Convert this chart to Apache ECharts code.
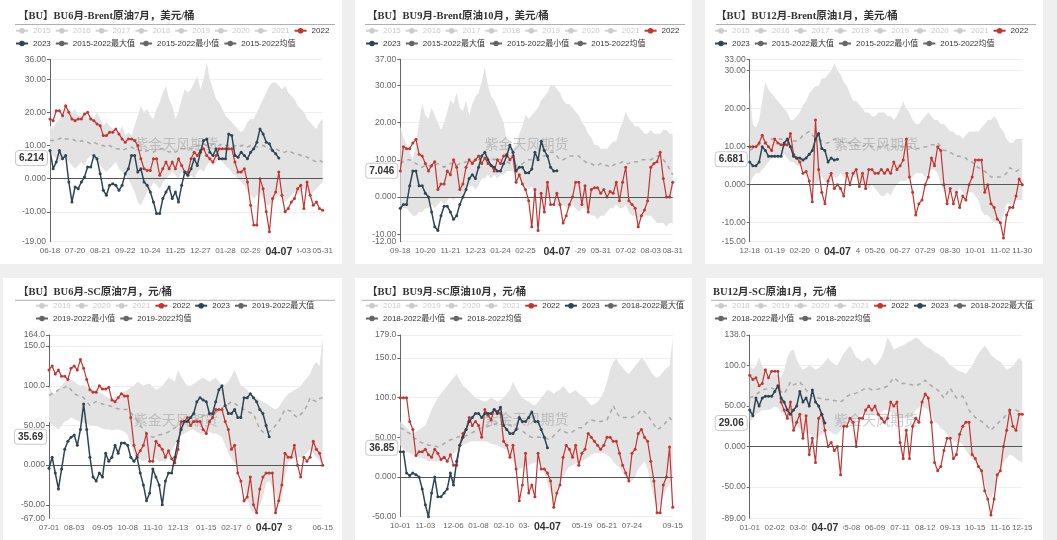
<!DOCTYPE html>
<html><head><meta charset="utf-8">
<script src="https://cdn.jsdelivr.net/npm/echarts/dist/echarts.min.js"></script>
<style>
body{margin:0;width:1057px;height:540px;background:#efefef;position:relative;overflow:hidden;}
.card{position:absolute;background:#fff;}
</style></head><body>
<div id="c1" class="card" style="left:0;top:0;width:342px;height:264px"></div>
<div id="c2" class="card" style="left:355px;top:0;width:337px;height:264px"></div>
<div id="c3" class="card" style="left:705px;top:0;width:338px;height:264px"></div>
<div id="c4" class="card" style="left:3px;top:278px;width:339px;height:262px"></div>
<div id="c5" class="card" style="left:355px;top:278px;width:337px;height:262px"></div>
<div id="c6" class="card" style="left:706px;top:278px;width:337px;height:262px"></div>
<script>
// ---------- Panel 1: BU6月-Brent原油7月 ----------
const p1Ticks = ['06-18','07-20','08-21','09-22','10-24','11-25','12-27','01-28','02-29','04-01','05-03'];
const p1End = '05-31';
const p1Y2022 = [18,17.5,20.5,20.5,19,22,20,18,17.5,18,
18,19.5,20,18,17.5,16.5,16,13,13,14,
14,15,13.5,12,11,12,12,11.5,10,6,
3,2.5,2.5,6,6,1,3,5,3,5,
3,6,4,2,2,6,8,7,8.5,9,
7,6,5,7,9,9,9,9,9,5,
2,2,3,-1,-8,-14,-14,0,-3,-10,
-16,-6,-4,2,-5,-10,-9,-7,-6,-3,
-2,-9,-1,-5,-8,-7,-9,-9.5];
const p1Y2023 = [8.5,3,5,8.5,6,7,-1,-7,-2.5,-3,
-1,0.5,3.5,3.5,7,6,1.5,-3.5,-5,-2,
-1.5,-2,-3.5,-2,1.5,3,7,7,2,3,
-1,-2,-4,-7,-10.5,-10.5,-6,-4,-2.5,-6,
-4,-7,-2,2,1,3,6,4,8,11.5,
12,8,7,9,6,6,6,13.5,13,7,
6.5,8,7,6,8,9,11,15,13.5,11,
10.5,8.5,7.5,6.214];
const p1Max = [16,15,17,18,19,21,21,20,21,19,
19,20,18,19,18,20,18,16,17,16,
15,14,14,16,13,14,13,16,19,22,
20,21,19,18,21,23,26,28,24,22,
18,20,24,27,26,27,29,31,27,30,
35,30,27,24,23,21,19,18,17,16,
15,14,15,17,18,18,20,22,24,26,
28,29,29,28,27,28,26,25,24,22,
21,20,18,17,16,15,17,18];
const p1Min = [8,7,6,5,6,6,5,4,3,4,
5,4,6,7,6,5,4,3,2,3,
4,5,3,2,1,0,-2,-4,-7,-8,
-6,-4,-3,-1,-2,-3,-1,0,1,2,
1,0,2,1,0,1,0,2,3,2,
4,5,4,5,6,5,4,3,2,1,
0,-1,-2,-4,-5,-6,-5,-4,-6,-8,
-8,-7,-6,-5,-6,-7,-6,-5,-4,-5,
-4,-3,-4,-5,-4,-3,-2,-1];
const p1Avg = [11.5,11.5,12,12,12.5,12,12,12,11.5,11,
11.5,11,11,10.5,11,10.5,10,10,9.5,10,
9.5,9,9,8.5,9,9,9.5,9,8.5,8.5,
8,8.5,8.5,8,8.5,9,9,8.5,8,8.5,
8,8.5,9,9,9.5,9,9.5,10,10,10.5,
10,10,10.5,10,10,10.5,10,10,9.5,10,
9.5,10,10,9.5,10,10,9.5,10,10,9.5,
9,8.5,9,8.5,8,8,8.5,8,7.5,7.5,
7,7,6.5,6,5.5,5,5.5,5];

// ---------- Panel 2: BU9月-Brent原油10月 ----------
const p2Ticks = ['09-18','10-20','11-21','12-23','01-24','02-25','03-28','04-29','05-31','07-02','08-03'];
const p2End = '08-31';
const p2Y2022 = [7,13.5,13,13,14.5,15.5,11.5,11,9,7,
8.5,9.5,2,3.5,3.5,7,6,10,8,2,
3.5,8,10,9,10,11,9,10.5,9,8.5,
7,10,9,11,11.5,10,11,4,6,3.5,
2,-1,-8,2,-9,1,-4,4,-2,-2,
1,-2,-7,-5,-2,0,4,4,-2,3,
-4,2,2.5,2.5,1,2,0,1.5,1,4,
-1,4,8,-1,-2,-3,-8,-5,-3.5,-1,
8,9,9.5,12,5,0,0,4];
const p2Y2023 = [-3,-2,-2,3,7,7,3,3,1,0,
-4,-8,-9,-5,-2.5,-2.5,-4,-6,-5,-2,
0,2,5,6,5,8,11,12,10,8.5,
8,7,7,9,11,14,12,7,8,8,
6.5,6.5,7.5,12,10,15,12.5,11,8,7,
7.046];
const p2Max = [19,16,14,12,10,14,20,25,22,21,
24,22,20,18,20,23,26,25,28,24,
23,26,22,25,27,28,31,35,30,27,
26,24,22,20,15,14,13,14,17,19,
22,21,22,23,24,26,27,28,30,30,
29,28,26,25,25,24,23,22,20,19,
17,16,14,14,13,13,13,14,15,15,
18,20,23,21,20,19,19,18,17,17,
18,17,17,17,18,18,17,17];
const p2Min = [-3,-3,-3,-4,-5,-5,-4,-4,-3,-3,
-2,-3,-2,-1,-2,-1,0,-1,0,0,
1,2,3,3,2,3,5,5,6,5,
6,5,6,6,7,7,7,6,5,3,
3,2,3,1,0,0,-1,0,0,-1,
-2,-3,-2,-3,-3,-2,-3,-4,-3,-3,
-4,-5,-5,-6,-5,-5,-4,-3,-3,-2,
-3,-3,-2,-4,-5,-5,-6,-5,-5,-5,
-5,-6,-7,-7,-7,-8,-7,-7];
const p2Avg = [9,9.5,10,10,9.5,9,8.5,8,8.5,8.5,
8,8.5,9,8.5,8,8.5,9,9,8.5,9,
9,9.5,9,9.5,10,10,10.5,10,10.5,10.5,
10,10.5,10,9.5,9.5,9,9,8.5,8.5,9,
9.5,10,10,10.5,10.5,11,11,11.5,12,12,
11,10,10,10.5,11,11,11,11,10,9.5,
9,9,8.5,8.5,9,8.5,8.5,8,8.5,9,
9,9.5,9,9,9.5,9.5,9.5,10,10,10,
10,10.5,11,11,10,9,7.5,6];

// ---------- Panel 3: BU12月-Brent原油1月 ----------
const p3Ticks = ['12-18','01-19','02-20','03-23','04-24','05-26','06-27','07-29','08-30','10-01','11-02'];
const p3End = '11-30';
const p3Y2022 = [10,10,10,11,13,11,10,9,12,11,
10.5,10.5,10.5,13.5,8,7,6,3,3.5,1,
-4.5,17,4,-2,-5,1,3,-1,0,-1,
-3,3,0,3,4,-0.5,3,-1,4,4,
3,3,4,3,4,3,6,4,5,6.5,
12,2,-2,-8,-5,-4,0,2,7,5,
10,9,0,-5,-1,-5,-2,-6,-3,-4,
0,2,6.5,6.5,6.5,-2,0,-5,-6,-9,
-10,-14,-8,-6,-6,-3,1.5,0];
const p3Y2023 = [6,5,5,6,10,9,7.5,7.5,7.5,7.5,
7.5,11,12,10,7.5,7,7,6.5,7,8,
9,12,13.5,9.5,9,6,7,6.5,6.681];
const p3Max = [25,16,15,17,22,27,25,24,23,22,
21,20,19,17,17,18,19,21,22,24,
25,26,26,28,28,29,30,32,30,29,
27,26,24,22,22,21,20,19,19,18,
18,19,19,19,18,18,17,18,20,22,
20,19,17,16,16,17,18,19,18,17,
17,16,16,15,14,14,13,13,12,13,
14,14,14,14,15,16,17,17,18,17,
15,14,12,11,11,12,12,12];
const p3Min = [0,2,3,3,4,5,6,7,7,7,
7,8,7,6,6,5,5,4,3,2,
1,0,1,2,1,0,1,2,2,3,
2,2,1,2,2,1,0,0,-1,0,
-1,-2,-3,-3,-2,-3,-1,0,1,1,
1,2,2,3,3,3,2,3,4,4,
3,0,-2,-2,-1,-2,-2,-1,-2,-3,
-2,-2,-3,-4,-7,-8,-8,-9,-10,-10,
-10,-8,-5,-5,-5,-4,-4,-4];
const p3Avg = [9,9.5,10,10.5,10.5,11,11.5,12,12,12,
12,11.5,11.5,11,11.5,11.5,12,13,13.5,14,
13,12.5,12,11.5,11,11,11.5,12,12,11.5,
11,11,11,10.5,10.5,10,10,10.5,10.5,10,
10,10,10,10,10.5,10,10,10,10,10,
10,10,9.5,9.5,9.5,9.5,10,10,10.5,10.5,
11,10,9,9,8.5,8,7.5,7.5,7,7,
6,6,5,4.5,4,3.5,3,2,2,2,
2,2.5,3,4.5,4,3.5,4,3.5];

// ---------- Panel 4: BU6月-SC原油7月 ----------
const p4Ticks = ['07-01','08-03','09-05','10-08','11-10','12-13','01-15','02-17','03-21','04-23',''];
const p4End = '06-15';
const p4Y2022 = [120,125,115,120,112,112,108,122,125,120,
133,122,108,95,92,92,100,96,96,98,
82,80,85,90,87,87,60,25,12,18,
25,40,5,5,30,25,20,10,18,8,
3,20,55,55,60,50,55,55,55,45,
40,55,60,70,70,70,55,45,20,25,
-10,-20,-45,-40,-15,-50,-60,-30,-15,-10,
-10,-10,-60,-45,-25,15,10,10,25,0,
-15,10,5,10,30,20,15,0];
const p4Y2023 = [-4,10,-10,-30,-5,20,30,35,38,25,
45,77,45,10,-15,-20,-10,-15,15,5,
10,25,15,28,28,25,10,5,10,-10,
-25,-45,-35,-5,-15,-25,-50,-20,-10,-10,
10,30,45,55,55,60,65,80,85,82,
80,65,65,80,95,100,75,65,65,70,
60,60,85,85,90,85,80,70,65,50,
35.69];
const p4Max = [100,92,90,96,100,105,110,108,105,102,
100,101,98,96,95,94,92,90,87,85,
85,86,88,90,93,95,98,100,105,103,
100,102,103,98,95,97,100,105,110,108,
105,120,112,105,100,100,103,105,108,110,
108,105,108,110,105,100,102,105,112,120,
110,100,98,95,90,88,85,82,80,78,
75,72,70,73,80,85,90,92,95,97,
100,105,110,115,125,130,125,160];
const p4Min = [55,50,48,45,50,55,57,60,58,56,
55,53,52,50,50,50,48,46,45,45,
44,45,45,44,42,38,25,15,10,7,
5,7,9,10,8,5,5,5,10,18,
25,33,37,40,42,44,45,42,40,40,
40,42,40,40,38,35,25,15,8,3,
-5,-15,-30,-42,-55,-60,-58,-50,-40,-22,
-20,-28,-35,-48,-45,-15,3,8,10,10,
10,12,15,20,15,10,5,0];
const p4Avg = [88,90,92,95,97,98,100,95,90,88,
87,85,80,75,78,80,79,77,76,75,
74,72,71,70,70,70,66,62,56,50,
45,40,37,35,37,38,39,40,42,45,
47,50,52,55,55,55,56,58,60,62,
65,63,62,66,70,72,75,77,80,78,
75,73,70,68,66,65,55,45,42,40,
42,45,50,55,62,70,69,68,63,60,
64,68,75,85,82,80,84,85];

// ---------- Panel 5: BU9月-SC原油10月 ----------
const p5Ticks = ['10-01','11-03','12-06','01-08','02-10','03-14','','05-19','06-21','07-24',''];
const p5End = '09-15';
const p5Y2022 = [100,100,100,70,60,27,32,32,35,28,
25,35,30,22,25,20,28,15,15,40,
55,60,75,65,70,65,50,85,78,72,
85,83,80,45,40,25,40,10,-30,-10,
30,-20,-10,-25,30,10,10,5,-5,-38,
-20,-10,25,40,35,25,40,15,30,35,
55,50,45,40,35,40,50,50,45,45,
30,15,5,-5,30,35,55,60,50,45,
20,-5,-45,-45,-10,0,38,-38];
const p5Y2023 = [32,32,5,2,5,3,0,-15,-35,-50,
-20,0,-25,-25,-20,-15,5,-10,20,40,
50,60,70,75,80,80,75,80,80,80,
85,80,88,65,60,55,55,60,75,70,
70,75,82,70,70,60,50,36.85];
const p5Max = [70,66,62,58,55,57,60,62,65,75,
85,92,100,105,110,115,120,125,130,122,
115,112,108,104,100,98,96,95,97,100,
98,95,97,100,105,110,120,112,105,100,
97,95,92,90,95,100,105,110,108,105,
108,110,115,110,105,107,110,105,102,100,
95,90,92,95,100,108,120,135,145,150,
142,138,133,130,135,140,145,150,147,140,
133,128,125,128,133,137,140,175];
const p5Min = [40,36,32,30,28,27,25,24,22,20,
20,20,20,22,23,25,27,30,33,38,
40,42,44,45,45,45,45,45,44,42,
41,40,38,36,35,30,20,12,10,12,
14,15,17,18,20,15,5,-8,-20,-30,
-25,-10,0,8,13,15,17,18,20,22,
25,28,30,30,30,30,28,25,20,15,
12,5,0,-3,-5,0,10,15,20,10,
-10,-25,-40,-35,-25,-15,-8,0];
const p5Avg = [62,60,57,55,50,48,45,43,42,40,
40,39,38,40,42,45,47,48,50,51,
52,52,54,56,58,60,62,63,64,65,
66,68,70,68,66,65,63,62,60,58,
55,52,50,50,50,50,49,48,48,52,
56,60,58,56,55,57,60,62,62,66,
70,72,71,70,70,71,72,80,90,82,
76,75,75,75,75,78,80,85,82,78,
72,66,60,62,65,70,75,70];

// ---------- Panel 6: BU12月-SC原油1月 ----------
const p6Ticks = ['01-01','02-02','03-05','04-06','05-08','06-09','07-11','08-12','09-13','10-15','11-16'];
const p6End = '12-15';
const p6Y2022 = [88,83,85,75,78,95,85,93,93,93,
55,45,35,55,20,30,40,10,38,-10,
10,-20,35,40,20,0,5,-5,0,-35,
25,25,35,30,0,35,35,45,50,45,
50,40,35,30,35,55,50,55,5,-15,
20,-15,25,35,30,55,65,60,30,-20,
-30,-25,-5,10,10,-15,-10,15,25,30,
30,-10,-15,-25,-30,-55,-65,-85,-65,-35,
-30,0,20,45,25,20,40,40];
const p6Y2023 = [45,38,60,50,60,62,62,62,68,75,
60,55,45,40,45,50,68,55,60,50,
70,55,50,40,29.06];
const p6Max = [100,96,100,110,100,90,85,88,90,88,
85,95,110,118,120,108,100,95,97,100,
98,95,97,100,105,110,105,102,100,108,
115,120,125,118,110,108,105,108,110,105,
100,105,110,120,135,128,120,122,124,125,
128,130,132,135,133,128,125,122,120,117,
115,112,110,105,100,98,95,93,92,90,
95,100,108,115,120,125,120,113,110,107,
105,100,95,97,100,105,110,105];
const p6Min = [30,35,40,42,45,45,45,47,50,48,
42,40,35,30,28,25,22,20,18,15,
13,10,12,15,17,20,18,15,15,20,
25,28,30,33,35,38,40,40,40,40,
40,40,42,45,45,43,40,38,35,35,
35,35,38,45,48,50,48,45,40,30,
28,22,20,15,10,7,5,5,3,-5,
-10,-15,-20,-25,-35,-45,-60,-65,-55,-40,
-30,-20,-15,-10,-12,-15,-18,-20];
const p6Avg = [60,62,64,67,70,71,72,72,71,70,
68,65,72,80,76,78,80,75,70,66,
62,61,60,59,58,58,57,57,56,55,
58,62,64,65,66,68,70,72,72,70,
70,71,72,73,75,80,85,82,78,78,
78,77,76,75,77,78,82,78,75,72,
70,65,60,66,72,66,60,62,62,55,
45,40,36,33,31,28,24,20,24,28,
32,35,40,45,45,45,43,40];

const yearsA = ['2015','2016','2017','2018','2019','2020','2021'];
const yearsB = ['2019','2020','2021'];
const yearsC = ['2018','2019','2020','2021'];
const ptrDate = '04-07';

// ---------- rendering ----------
const C22 = '#c23531', C23 = '#2f4554', CG = '#666666';
const fmt4 = v => (+v).toPrecision(4);
const FONT = '"Liberation Sans","Noto Sans CJK SC",sans-serif';

function build(id, p) {
  const el = document.getElementById(id);
  const W = el.clientWidth, H = el.clientHeight;
  const chart = echarts.init(el, null, {renderer: 'canvas'});
  const n = p.max.length;
  const cats = Array.from({length: n}, (_, i) => String(i));
  const tickMap = {};
  p.ticks.forEach((t, k) => { tickMap[Math.round(k * p.spacing / 4)] = t; });
  tickMap[n - 1] = p.end;
  const nMax = p.range + '最大值', nMin = p.range + '最小值', nAvg = p.range + '均值';
  const ptrIdx = p.y2023.length - 1;
  const selected = {};
  const series = [];
  p.inactive.forEach(y => {
    selected[y] = false;
    series.push({name: y, type: 'line', data: [], color: '#ccc', symbol: 'circle'});
  });
  const diff = p.max.map((v, i) => v - p.min[i]);
  series.push({name: nMin, type: 'line', stack: 'band', stackStrategy: 'all', data: p.min,
    symbol: 'circle', showSymbol: false, color: CG, lineStyle: {opacity: 0}, z: 1, silent: true});
  series.push({name: nMax, type: 'line', stack: 'band', stackStrategy: 'all', data: diff,
    symbol: 'circle', showSymbol: false, color: CG, lineStyle: {opacity: 0},
    areaStyle: {color: '#e3e3e3', opacity: 1}, z: 1, silent: true});
  series.push({name: nAvg, type: 'line', data: p.avg, symbol: 'circle', showSymbol: false, color: CG,
    lineStyle: {color: '#a9a9a9', type: [4, 4], width: 1.5}, z: 3, silent: true,
    markLine: {silent: true, symbol: 'none', label: {show: false},
      lineStyle: {color: '#555', width: 1, type: 'solid'}, data: [{yAxis: 0}]}});
  series.push({name: '2022', type: 'line', data: p.y2022, symbol: 'circle', symbolSize: 3,
    showAllSymbol: true, color: C22, lineStyle: {width: 1.2, color: C22}, z: 4});
  series.push({name: '2023', type: 'line', data: p.y2023, symbol: 'circle', symbolSize: 3,
    showAllSymbol: true, color: C23, lineStyle: {width: 1.5, color: C23}, z: 5});

  const item = name => ([nMax, nMin, nAvg].includes(name)
    ? {name, itemStyle: {color: CG, opacity: 1}, lineStyle: {color: CG, opacity: 1, type: 'solid', width: 2}}
    : {name});
  const legendBase = {padding: 0, itemWidth: 12, itemHeight: 7, itemGap: 4, width: 700,
    inactiveColor: '#ccc', selected,
    lineStyle: {width: 2},
    textStyle: {fontSize: 8, color: '#333', lineHeight: 10, fontFamily: FONT}};
  const gl = p.grid[0], gr = p.grid[1], gt = p.grid[2], gb = p.grid[3];
  const cx = gl + (W - gl - gr) / 2, cy = gt + (H - gt - gb) / 2;
  const yLabel = {color: '#666', fontSize: 8.5, margin: 4, fontFamily: FONT, hideOverlap: false};

  chart.setOption({
    animation: false,
    title: {text: p.title, left: p.titleX, top: p.titleY, padding: 0,
      textStyle: {fontSize: 10.5, fontWeight: 'bold', color: '#333', lineHeight: 14,
        fontFamily: '"Liberation Serif","Noto Sans CJK SC",serif'}},
    legend: [
      Object.assign({}, legendBase, {data: p.row1.map(item), left: p.legX, top: p.legY}),
      Object.assign({}, legendBase, {data: p.row2.map(item), left: p.legX, top: p.legY + 12.8})
    ],
    graphic: [
      {type: 'line', shape: {x1: p.lineX[0], y1: p.lineY, x2: p.lineX[1], y2: p.lineY},
        style: {stroke: '#b0b0b0', lineWidth: 1}, silent: true},
      {type: 'text', x: cx - 52, y: cy - 14, z: 2,
        style: {text: '紫金天风期货', fill: 'rgba(140,140,140,0.45)',
          font: '14px "Noto Sans CJK SC"'}, silent: true}
    ],
    grid: {left: gl, right: gr, top: gt, bottom: gb, containLabel: false},
    xAxis: {type: 'category', data: cats, boundaryGap: false,
      axisLine: {show: false, onZero: false}, axisTick: {show: false}, splitLine: {show: false},
      axisLabel: {interval: i => tickMap[i] !== undefined, formatter: (v, i) => tickMap[i] || '',
        color: '#666', fontSize: 8, margin: 5, fontFamily: FONT,
        hideOverlap: false, showMinLabel: true, showMaxLabel: true},
      axisPointer: {show: true, value: ptrIdx, status: 'show', type: 'line', triggerTooltip: false,
        lineStyle: {opacity: 0},
        label: {show: true, formatter: () => ptrDate, backgroundColor: '#fff', color: '#333',
          fontWeight: 'bold', fontSize: 10.5, padding: [1, 5], margin: 4, fontFamily: FONT}}},
    yAxis: [
      {type: 'value', min: p.yMin, max: p.yMax, splitNumber: 5,
        axisLine: {show: true, lineStyle: {color: '#666'}},
        axisTick: {show: true, length: 3, lineStyle: {color: '#666'}},
        splitLine: {show: true, lineStyle: {color: '#eeeeee'}},
        axisLabel: Object.assign({formatter: v => fmt4(v), showMinLabel: false, showMaxLabel: true}, yLabel),
        axisPointer: {show: true, value: p.y2023[ptrIdx], status: 'show', type: 'line', triggerTooltip: false,
          lineStyle: {opacity: 0},
          label: {show: true, formatter: o => fmt4(o.value), backgroundColor: '#fff',
            borderColor: '#ccc', borderWidth: 1, color: '#333', fontWeight: 'bold',
            fontSize: 10, padding: [2, 3], margin: 3, fontFamily: FONT}}},
      {type: 'value', min: p.yMin, max: p.yMax, splitNumber: 5, position: 'left',
        axisLine: {show: false}, axisTick: {show: false}, splitLine: {show: false},
        axisPointer: {show: false},
        axisLabel: Object.assign({formatter: v => (v === p.yMin ? fmt4(v) : ''),
          showMinLabel: true, showMaxLabel: false}, yLabel)}
    ],
    series
  });
}

const rowTopA = yr => yr.concat(['2022']);

build('c1', {title: '【BU】BU6月-Brent原油7月，美元/桶', range: '2015-2022', inactive: yearsA,
  row1: rowTopA(yearsA), row2: ['2023', '2015-2022最大值', '2015-2022最小值', '2015-2022均值'],
  y2022: p1Y2022, y2023: p1Y2023, max: p1Max, min: p1Min, avg: p1Avg,
  yMin: -19, yMax: 36, ticks: p1Ticks, end: p1End, spacing: 32,
  grid: [50, 19.3, 59.3, 22.3], titleX: 18, titleY: 9, legX: 15, legY: 25.7, lineX: [15, 335], lineY: 24.5});
build('c2', {title: '【BU】BU9月-Brent原油10月，美元/桶', range: '2015-2022', inactive: yearsA,
  row1: rowTopA(yearsA), row2: ['2023', '2015-2022最大值', '2015-2022最小值', '2015-2022均值'],
  y2022: p2Y2022, y2023: p2Y2023, max: p2Max, min: p2Min, avg: p2Avg,
  yMin: -12, yMax: 37, ticks: p2Ticks, end: p2End, spacing: 32,
  grid: [45.3, 19.3, 59.3, 22.3], titleX: 12, titleY: 9, legX: 10, legY: 25.7, lineX: [10, 330], lineY: 24.5});
build('c3', {title: '【BU】BU12月-Brent原油1月，美元/桶', range: '2015-2022', inactive: yearsA,
  row1: rowTopA(yearsA), row2: ['2023', '2015-2022最大值', '2015-2022最小值', '2015-2022均值'],
  y2022: p3Y2022, y2023: p3Y2023, max: p3Max, min: p3Min, avg: p3Avg,
  yMin: -15, yMax: 33, ticks: p3Ticks, end: p3End, spacing: 32,
  grid: [44.7, 20.7, 59.3, 22.3], titleX: 11, titleY: 9, legX: 9, legY: 25.7, lineX: [11, 331], lineY: 24.5});
build('c4', {title: '【BU】BU6月-SC原油7月，元/桶', range: '2019-2022', inactive: yearsB,
  row1: yearsB.concat(['2022', '2023', '2019-2022最大值']), row2: ['2019-2022最小值', '2019-2022均值'],
  y2022: p4Y2022, y2023: p4Y2023, max: p4Max, min: p4Min, avg: p4Avg,
  yMin: -67, yMax: 164, ticks: p4Ticks, end: p4End, spacing: 33,
  grid: [46, 19.3, 57, 21.7], titleX: 15, titleY: 7, legX: 32, legY: 22.7, lineX: [12, 332], lineY: 22.3});
build('c5', {title: '【BU】BU9月-SC原油10月，元/桶', range: '2018-2022', inactive: yearsC,
  row1: yearsC.concat(['2022', '2023', '2018-2022最大值']), row2: ['2018-2022最小值', '2018-2022均值'],
  y2022: p5Y2022, y2023: p5Y2023, max: p5Max, min: p5Min, avg: p5Avg,
  yMin: -50, yMax: 179, ticks: p5Ticks, end: p5End, spacing: 33,
  grid: [45.3, 19.3, 57, 23.3], titleX: 12, titleY: 7, legX: 10, legY: 22.7, lineX: [7, 330], lineY: 22.3});
build('c6', {title: 'BU12月-SC原油1月，元/桶', range: '2018-2022', inactive: yearsC,
  row1: yearsC.concat(['2022', '2023', '2018-2022最大值']), row2: ['2018-2022最小值', '2018-2022均值'],
  y2022: p6Y2022, y2023: p6Y2023, max: p6Max, min: p6Min, avg: p6Avg,
  yMin: -89, yMax: 138, ticks: p6Ticks, end: p6End, spacing: 32,
  grid: [43.7, 20.7, 57, 21.7], titleX: 7, titleY: 7, legX: 8, legY: 22.7, lineX: [5, 329], lineY: 22.3});
</script>
</body></html>
